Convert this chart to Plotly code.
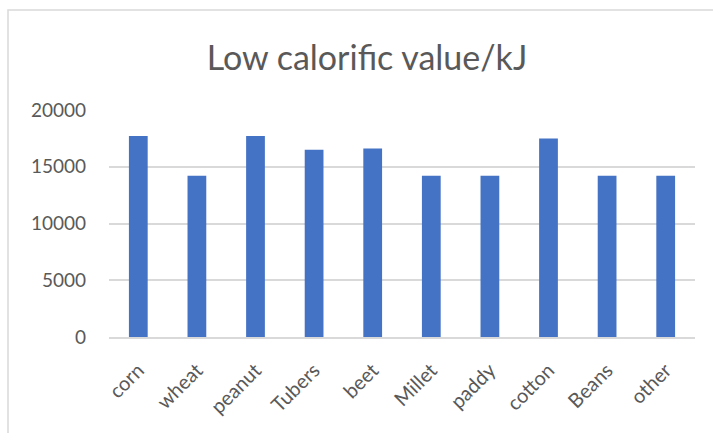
import plotly.graph_objects as go

# Crop residues and their low calorific value (kJ)
categories = ["corn", "wheat", "peanut", "Tubers", "beet", "Millet",
              "paddy", "cotton", "Beans", "other"]
low_calorific_kj = [17700, 14200, 17700, 16500, 16600, 14200,
                    14200, 17500, 14200, 14200]
y_ticks = [0, 5000, 10000, 15000, 20000]

W, H = 713, 433
L, R, T, B = 109, 18, 110, 96
plot_w = W - L - R
plot_h = H - T - B

TEXT = "#595959"
GRID = "#D9D9D9"
FONT = "Lato"

fig = go.Figure(
    go.Bar(
        x=categories,
        y=low_calorific_kj,
        marker=dict(color="#4472C4", line=dict(width=0)),
        width=0.32,
    )
)

# Chart-area frame (runs off the right and bottom edges)
fx0 = (8 - L) / plot_w
fy1 = (H - B - 10) / plot_h
fig.add_shape(type="rect", xref="paper", yref="paper",
              x0=fx0, x1=1.2, y0=-0.6, y1=fy1,
              line=dict(color=GRID, width=1.5), layer="below")

fig.update_layout(
    width=W, height=H,
    margin=dict(l=L, r=R, t=T, b=B),
    paper_bgcolor="white",
    plot_bgcolor="white",
    showlegend=False,
    bargap=0.68,
    title=dict(text="Low calorific value/kJ", x=367 / W,
               xanchor="center", y=1 - 58 / H, yanchor="middle",
               font=dict(family=FONT, size=34, color=TEXT)),
    font=dict(family=FONT, color=TEXT),
)

fig.update_xaxes(
    tickangle=-45,
    tickfont=dict(family=FONT, size=20, color=TEXT),
    showgrid=False,
    showline=True, linecolor=GRID, linewidth=1.5,
    ticks="",
    ticklabelstandoff=12,
)

fig.update_yaxes(
    range=[0, 20000],
    tickvals=y_ticks,
    ticktext=[str(v) for v in y_ticks],
    tickfont=dict(family=FONT, size=19, color=TEXT),
    showgrid=True, gridcolor=GRID, gridwidth=1.5,
    zeroline=False,
    showline=False,
    ticks="",
    ticklabelstandoff=22,
)

fig.write_html("out.html")
